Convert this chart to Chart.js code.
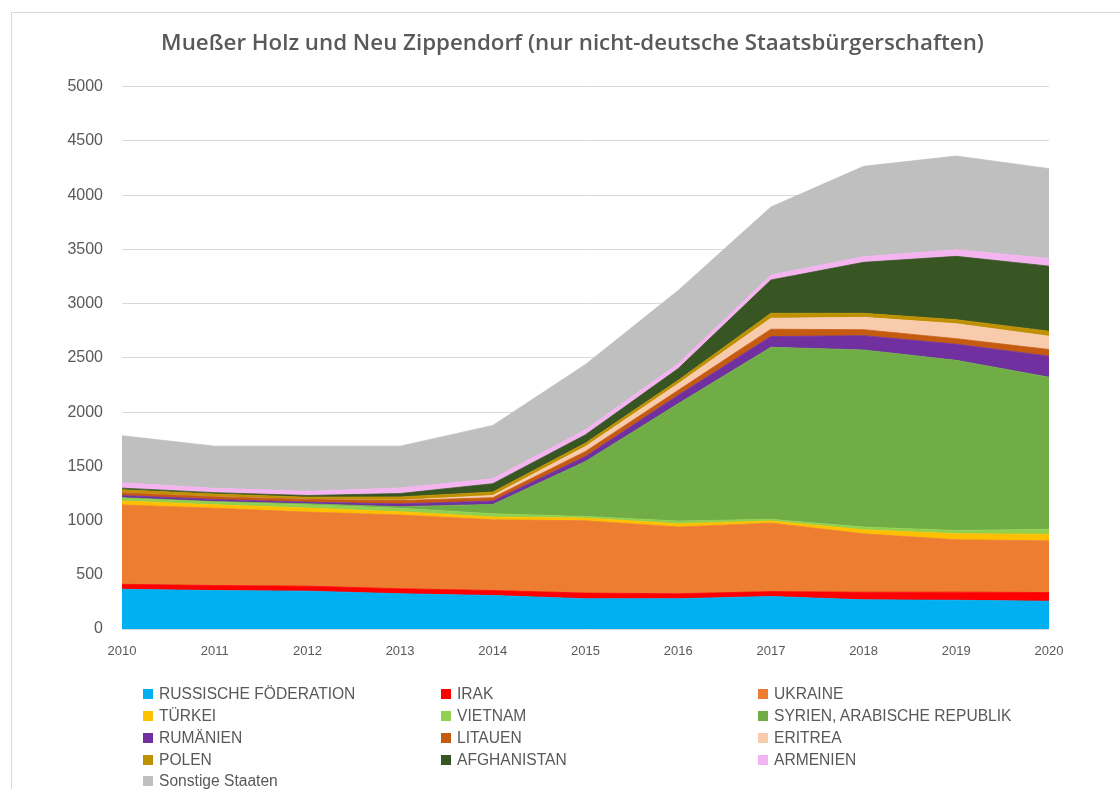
<!DOCTYPE html>
<html><head><meta charset="utf-8">
<script src="https://cdn.jsdelivr.net/npm/chart.js@4/dist/chart.umd.min.js"></script>
<style>
html,body{margin:0;padding:0;background:#fff;width:1120px;height:789px;overflow:hidden;}
#frame{position:absolute;left:11px;top:12px;width:1300px;height:900px;border-left:1px solid #D9D9D9;border-top:1px solid #D9D9D9;}
#wrap{position:absolute;left:0;top:0;width:1120px;height:669px;}
#legend{position:absolute;left:0;top:0;width:1120px;height:789px;pointer-events:none;font-family:"Liberation Sans",Arial,sans-serif;font-size:15.6px;color:#595959;}
.li{position:absolute;white-space:nowrap;line-height:16px;}
.li span.b{display:inline-block;width:10px;height:10px;margin-right:6px;vertical-align:0px;}
</style></head><body>
<div id="frame"></div>
<div id="wrap"><canvas id="c" width="1120" height="669"></canvas></div>
<div id="legend"></div>
<script>
const years = ['2010','2011','2012','2013','2014','2015','2016','2017','2018','2019','2020'];
const russland    = [366, 355, 349, 325, 309, 279, 279, 300, 269, 265, 256];
const irak        = [46, 46, 46, 46, 46, 52, 46, 45, 70, 75, 80];
const ukraine     = [732, 713, 683, 680, 652, 667, 615, 631, 539, 483, 477];
const tuerkei     = [37, 31, 37, 31, 25, 25, 31, 20, 37, 55, 61];
const vietnam     = [25, 25, 31, 31, 31, 15, 25, 15, 25, 31, 46];
const syrien      = [5, 5, 9, 15, 86, 507, 1082, 1587, 1633, 1568, 1402];
const rumaenien   = [20, 20, 15, 25, 31, 46, 77, 98, 132, 148, 194];
const litauen     = [25, 25, 25, 31, 31, 46, 46, 68, 55, 52, 61];
const eritrea     = [0, 0, 0, 3, 21, 46, 61, 101, 114, 138, 123];
const polen       = [28, 25, 21, 31, 31, 31, 31, 46, 37, 37, 46];
const afghanistan = [15, 12, 15, 31, 77, 77, 108, 307, 470, 584, 600];
const armenien    = [50, 40, 40, 52, 46, 46, 46, 46, 52, 62, 71];
const sonstige    = [433, 389, 415, 385, 491, 603, 675, 627, 833, 863, 828];

const seriesNames = ['RUSSISCHE FÖDERATION','IRAK','UKRAINE','TÜRKEI','VIETNAM','SYRIEN, ARABISCHE REPUBLIK','RUMÄNIEN','LITAUEN','ERITREA','POLEN','AFGHANISTAN','ARMENIEN','Sonstige Staaten'];
const seriesData = [russland, irak, ukraine, tuerkei, vietnam, syrien, rumaenien, litauen, eritrea, polen, afghanistan, armenien, sonstige];
const seriesColors = ['#00B0F0','#FF0000','#ED7D31','#FFC000','#92D050','#70AD47','#7030A0','#C55A11','#F8CBAD','#BF9000','#375623','#F4B4F0','#BFBFBF'];
const yTicks = [0,500,1000,1500,2000,2500,3000,3500,4000,4500,5000];

const datasets = seriesNames.map((n,i)=>({
  label:n, data:seriesData[i], backgroundColor:seriesColors[i], borderColor:seriesColors[i],
  borderWidth:0.8, pointRadius:0, pointHoverRadius:0, tension:0,
  fill: i===0 ? 'origin' : '-1'
}));

const chart = new Chart(document.getElementById('c'), {
  type:'line',
  data:{labels:years, datasets},
  options:{
    responsive:false, animation:false,
    layout:{padding:{left:25,right:0,top:0,bottom:0}},
    plugins:{
      legend:{display:false},
      tooltip:{enabled:false},
      title:{display:true, text:'Mueßer Holz und Neu Zippendorf (nur nicht-deutsche Staatsbürgerschaften)',
        color:'#595959', font:{family:'"Open Sans", "Liberation Sans", Arial, sans-serif', size:22.3, weight:'600'},
        padding:{top:30,bottom:30}}
    },
    scales:{
      x:{offset:false, grid:{display:false, drawTicks:false}, border:{display:false},
        ticks:{color:'#595959', font:{family:'"Liberation Sans", Arial, sans-serif', size:13}, padding:15, maxRotation:0},
        afterFit:(s)=>{s.height=40;}},
      y:{stacked:true, min:0, max:5000, afterBuildTicks:(s)=>{s.ticks=yTicks.map(v=>({value:v}));},
        grid:{color:'#D9D9D9', drawTicks:false}, border:{display:false},
        ticks:{color:'#595959', font:{family:'"Liberation Sans", Arial, sans-serif', size:16}, padding:19,
          callback:(v)=>String(v)},
        afterFit:(s)=>{s.width=97;}},
      yRight:{position:'right', display:true, grid:{display:false, drawTicks:false}, border:{display:false},
        ticks:{display:false}, afterFit:(s)=>{s.width=71;}}
    }
  }
});

// legend built from the chart's datasets
const leg = document.getElementById('legend');
const colX = [143, 441, 758];
const rowY = [694, 716, 738, 760, 781];
chart.data.datasets.forEach((d,i)=>{
  const el = document.createElement('div');
  el.className='li';
  el.style.left = colX[i%3]+'px';
  el.style.top = (rowY[Math.floor(i/3)]-8)+'px';
  el.innerHTML = '<span class="b" style="background:'+d.backgroundColor+'"></span>';
  el.appendChild(document.createTextNode(d.label));
  leg.appendChild(el);
});
</script>
</body></html>
